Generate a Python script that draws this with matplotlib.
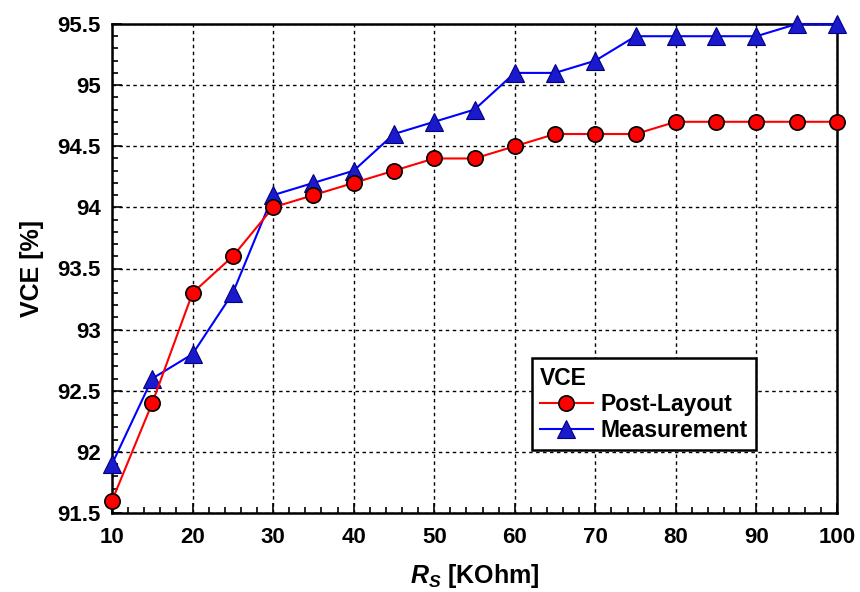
import matplotlib.pyplot as plt
import numpy as np

plt.rcParams['font.family'] = ['Liberation Sans', 'DejaVu Sans']
plt.rcParams['font.weight'] = 'bold'
plt.rcParams['mathtext.fontset'] = 'custom'
plt.rcParams['mathtext.it'] = 'Liberation Sans:italic:bold'
plt.rcParams['mathtext.rm'] = 'Liberation Sans:bold'

rs = [10, 15, 20, 25, 30, 35, 40, 45, 50, 55, 60, 65, 70, 75, 80, 85, 90, 95, 100]
post_layout = [91.6, 92.4, 93.3, 93.6, 94.0, 94.1, 94.2, 94.3, 94.4, 94.4,
               94.5, 94.6, 94.6, 94.6, 94.7, 94.7, 94.7, 94.7, 94.7]
measurement = [91.9, 92.6, 92.8, 93.3, 94.1, 94.2, 94.3, 94.6, 94.7, 94.8,
               95.1, 95.1, 95.2, 95.4, 95.4, 95.4, 95.4, 95.5, 95.5]

fig = plt.figure(figsize=(8.6, 5.92), dpi=100)
ax = fig.add_axes([112/860, 1 - 513/592, (837-112)/860, (513-24)/592])

ax.plot(rs, post_layout, color='red', lw=1.5, marker='o', ms=11,
        mfc='red', mec='black', mew=1.2, label='Post-Layout', clip_on=False, zorder=4)
ax.plot(rs, measurement, color='blue', lw=1.5, marker='^', ms=13,
        mfc='#1a1acc', mec='#000080', mew=0.8, label='Measurement', clip_on=False, zorder=3)

ax.set_xlim(10, 100)
ax.set_ylim(91.5, 95.5)
ax.set_xticks(np.arange(10, 101, 10))
ax.set_xticks(np.arange(10, 101, 2), minor=True)
ax.set_yticks(np.arange(91.5, 95.51, 0.5))
ax.set_yticks(np.arange(91.5, 95.51, 0.1), minor=True)
ax.set_yticklabels(['91.5', '92', '92.5', '93', '93.5', '94', '94.5', '95', '95.5'])
ax.tick_params(which='both', direction='in', top=False, right=False,
               labelsize=16, width=1.2)
ax.tick_params(which='major', length=7, pad=10)
ax.tick_params(which='minor', length=4)
ax.tick_params(axis='y', which='major', pad=8)
for lab in ax.get_xticklabels() + ax.get_yticklabels():
    lab.set_fontweight('bold')

ax.grid(True, which='major', color='black', ls=(0, (2.5, 2.5)), lw=1.0)
for s in ax.spines.values():
    s.set_linewidth(1.8)

ax.set_ylabel('VCE [%]', fontsize=18, fontweight='bold', labelpad=10)
ax.set_xlabel(r'$R_S$ [KOhm]', fontsize=18, fontweight='bold', labelpad=10)

leg = ax.legend(title='VCE', loc='lower right', bbox_to_anchor=(0.888, 0.128),
                fontsize=16.5, title_fontsize=16.5, frameon=True, fancybox=False,
                edgecolor='black', framealpha=1, borderpad=0.35, handlelength=2.3,
                handletextpad=0.35, labelspacing=0.15, borderaxespad=0)
leg._legend_box.align = 'left'
leg.get_title().set_fontweight('bold')
leg.get_frame().set_linewidth(1.8)
for t in leg.get_texts():
    t.set_fontweight('bold')

fig.savefig('out.png', dpi=100)
